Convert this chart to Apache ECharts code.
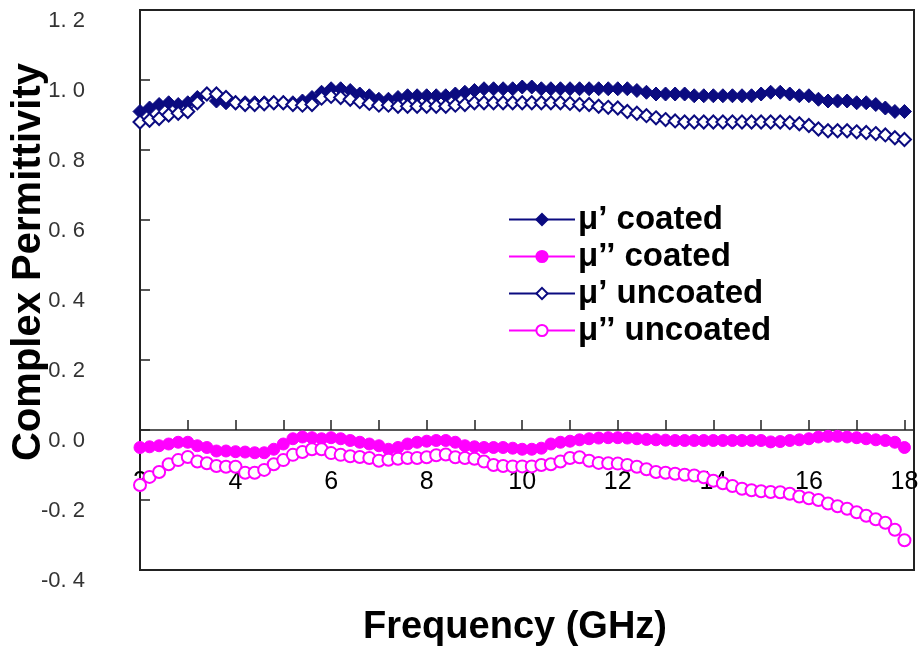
<!DOCTYPE html>
<html>
<head>
<meta charset="utf-8">
<script src="https://cdn.jsdelivr.net/npm/echarts@6/dist/echarts.min.js"></script>
<style>html,body{margin:0;padding:0;background:#fff}#c{width:920px;height:650px}</style>
</head>
<body>
<div id="c"></div>
<script>
// Frequency (GHz): 2.0 .. 18.0, step 0.2
const freq = [2.0,2.2,2.4,2.6,2.8,3.0,3.2,3.4,3.6,3.8,4.0,4.2,4.4,4.6,4.8,5.0,5.2,5.4,5.6,5.8,6.0,6.2,6.4,6.6,6.8,7.0,7.2,7.4,7.6,7.8,8.0,8.2,8.4,8.6,8.8,9.0,9.2,9.4,9.6,9.8,10.0,10.2,10.4,10.6,10.8,11.0,11.2,11.4,11.6,11.8,12.0,12.2,12.4,12.6,12.8,13.0,13.2,13.4,13.6,13.8,14.0,14.2,14.4,14.6,14.8,15.0,15.2,15.4,15.6,15.8,16.0,16.2,16.4,16.6,16.8,17.0,17.2,17.4,17.6,17.8,18.0];

const muRealCoated = [0.91,0.92,0.93,0.935,0.93,0.935,0.95,0.96,0.94,0.935,0.935,0.935,0.935,0.935,0.935,0.935,0.935,0.94,0.95,0.965,0.975,0.975,0.97,0.96,0.955,0.945,0.945,0.95,0.955,0.955,0.955,0.955,0.955,0.96,0.965,0.97,0.975,0.975,0.975,0.975,0.98,0.98,0.975,0.975,0.975,0.975,0.975,0.975,0.975,0.975,0.975,0.975,0.97,0.965,0.96,0.96,0.96,0.96,0.955,0.955,0.955,0.955,0.955,0.955,0.955,0.96,0.965,0.965,0.96,0.955,0.955,0.945,0.94,0.94,0.94,0.935,0.935,0.93,0.92,0.91,0.91];

const muImagCoated = [-0.05,-0.048,-0.045,-0.04,-0.035,-0.035,-0.045,-0.05,-0.06,-0.06,-0.062,-0.063,-0.065,-0.065,-0.055,-0.04,-0.025,-0.02,-0.022,-0.025,-0.022,-0.025,-0.03,-0.035,-0.04,-0.045,-0.055,-0.05,-0.04,-0.035,-0.032,-0.03,-0.03,-0.035,-0.045,-0.048,-0.05,-0.05,-0.05,-0.052,-0.055,-0.055,-0.052,-0.04,-0.035,-0.032,-0.028,-0.025,-0.023,-0.022,-0.022,-0.023,-0.025,-0.027,-0.028,-0.029,-0.03,-0.03,-0.03,-0.03,-0.03,-0.03,-0.03,-0.03,-0.03,-0.03,-0.034,-0.033,-0.03,-0.028,-0.025,-0.02,-0.018,-0.018,-0.02,-0.022,-0.025,-0.028,-0.03,-0.035,-0.05];

const muRealUncoated = [0.88,0.885,0.89,0.90,0.905,0.91,0.935,0.96,0.96,0.95,0.935,0.93,0.93,0.932,0.935,0.935,0.93,0.928,0.93,0.948,0.953,0.95,0.945,0.938,0.933,0.928,0.928,0.925,0.925,0.925,0.925,0.925,0.925,0.928,0.93,0.935,0.935,0.935,0.935,0.935,0.935,0.935,0.935,0.935,0.935,0.933,0.93,0.93,0.925,0.922,0.92,0.91,0.905,0.898,0.892,0.887,0.883,0.88,0.88,0.88,0.88,0.88,0.88,0.88,0.88,0.88,0.88,0.88,0.878,0.875,0.87,0.86,0.855,0.855,0.855,0.852,0.85,0.847,0.843,0.835,0.83];

const muImagUncoated = [-0.157,-0.134,-0.12,-0.098,-0.086,-0.077,-0.09,-0.095,-0.103,-0.105,-0.105,-0.122,-0.122,-0.114,-0.098,-0.086,-0.071,-0.063,-0.055,-0.055,-0.066,-0.071,-0.075,-0.077,-0.08,-0.088,-0.085,-0.082,-0.08,-0.08,-0.078,-0.072,-0.07,-0.078,-0.08,-0.082,-0.09,-0.1,-0.103,-0.104,-0.104,-0.104,-0.1,-0.098,-0.09,-0.08,-0.078,-0.088,-0.094,-0.095,-0.096,-0.1,-0.105,-0.112,-0.12,-0.122,-0.125,-0.128,-0.13,-0.135,-0.145,-0.152,-0.16,-0.168,-0.172,-0.175,-0.177,-0.178,-0.182,-0.19,-0.195,-0.2,-0.21,-0.218,-0.225,-0.235,-0.245,-0.255,-0.265,-0.285,-0.315];

const seriesNames = ['\u03bc\u2019 coated','\u03bc\u2019\u2019 coated','\u03bc\u2019 uncoated','\u03bc\u2019\u2019 uncoated'];
const xTitle = 'Frequency (GHz)';
const yTitle = 'Complex Permittivity';

const NAVY = '#0b0b80';
const MAG = '#ff00ff';
const FONT = '"Liberation Sans", Arial, Helvetica, sans-serif';

function pairs(ys){ return freq.map((x,i)=>[x, ys[i]]); }

const chart = echarts.init(document.getElementById('c'), null, {renderer:'canvas'});
chart.setOption({
  animation:false,
  backgroundColor:'#fff',
  grid:{left:140,right:6,top:10,bottom:80,show:true,borderColor:'#222',borderWidth:2,backgroundColor:'transparent',
    containLabel:false, outerBoundsMode:'none'},
  legend:{
    orient:'vertical', left:503, top:198, itemWidth:66, itemHeight:14, itemGap:4,
    textStyle:{fontFamily:FONT,fontWeight:'bold',fontSize:33,color:'#000',padding:[0,0,0,-2]},
    data:seriesNames
  },
  graphic:[
    {type:'text', x:515, y:628, z:10,
      style:{text:xTitle, font:'bold 38px "Liberation Sans", Arial, sans-serif', fill:'#000', align:'center', verticalAlign:'middle'}},
    {type:'text', x:29, y:262, rotation:Math.PI/2, z:10,
      style:{text:yTitle, font:'bold 40px "Liberation Sans", Arial, sans-serif', fill:'#000', align:'center', verticalAlign:'middle'}}
  ],
  xAxis:{
    type:'value', min:2, max:18.2, interval:1,
    axisLine:{onZero:true,lineStyle:{color:'#222',width:1.5}},
    axisTick:{inside:true,length:10,lineStyle:{color:'#222',width:1.5}},
    splitLine:{show:false},
    axisLabel:{fontFamily:FONT,fontSize:25,color:'#000',margin:-100,
      formatter:function(v){ return (Math.abs(v%2)<1e-9 && v<=18) ? String(v) : ''; }}
  },
  yAxis:{
    type:'value', min:-0.4, max:1.2, interval:0.2,
    axisLine:{show:true,lineStyle:{color:'#222',width:2}},
    axisTick:{inside:true,length:10,lineStyle:{color:'#222',width:1.5}},
    splitLine:{show:false},
    axisLabel:{fontFamily:FONT,fontSize:22,color:'#333',margin:55,verticalAlign:'top',
      formatter:function(v){ const s=Math.abs(v).toFixed(1).replace('.', '. '); return (v< -1e-9 ? '-' : '') + s; }}
  },
  series:[
    {name:seriesNames[0],type:'line',data:pairs(muRealCoated),symbol:'diamond',symbolSize:14,
      lineStyle:{color:NAVY,width:1.5},itemStyle:{color:NAVY,borderColor:NAVY,borderWidth:1},z:2},
    {name:seriesNames[1],type:'line',data:pairs(muImagCoated),symbol:'circle',symbolSize:12,
      lineStyle:{color:MAG,width:1.5},itemStyle:{color:MAG,borderColor:MAG,borderWidth:1},z:2},
    {name:seriesNames[2],type:'line',data:pairs(muRealUncoated),symbol:'emptyDiamond',symbolSize:13,
      lineStyle:{color:NAVY,width:1.5},itemStyle:{color:NAVY,borderColor:NAVY,borderWidth:2.5},z:3},
    {name:seriesNames[3],type:'line',data:pairs(muImagUncoated),symbol:'emptyCircle',symbolSize:12,
      lineStyle:{color:MAG,width:1.5},itemStyle:{color:MAG,borderColor:MAG,borderWidth:2},z:3}
  ]
});
</script>
</body>
</html>
